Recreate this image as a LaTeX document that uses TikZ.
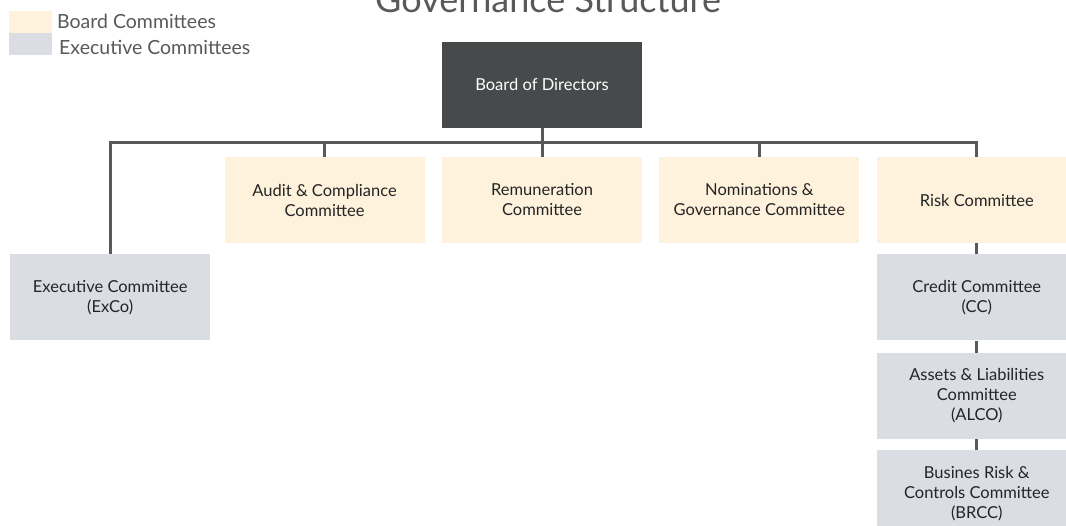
\documentclass[tikz,border=0pt]{standalone}
\usepackage{fontspec}
\setmainfont{Lato}
\usetikzlibrary{positioning}
\definecolor{Ink}{HTML}{232425}
\definecolor{Slate}{HTML}{474A4B}
\definecolor{Wire}{HTML}{58595B}
\definecolor{Cream}{HTML}{FFF2DC}
\definecolor{Mist}{HTML}{DADDE3}
\tikzset{
  every node/.append style={text=Ink},
  unit/.style={minimum width=200pt, minimum height=86pt, align=center,
               inner sep=2pt, font=\fontsize{16.5}{20}\selectfont},
  bcomm/.style={unit, fill=Cream},
  ecomm/.style={unit, fill=Mist},
  chair/.style={unit, fill=Slate, text=white},
  link/.style={draw=Wire, line width=3pt},
  key/.style={minimum width=43pt, minimum height=22pt, inner sep=0pt},
  keytext/.style={font=\fontsize{19.5}{22}\selectfont, anchor=west, inner sep=0pt, text=Wire},
}

\begin{document}
\begin{tikzpicture}[x=1pt, y=-1pt, node distance=17pt]
  \useasboundingbox (0,0) rectangle (1066,526);
  % title and legend
  \node[anchor=base, font=\fontsize{36}{40}\selectfont, text=Wire] (title) at (548,13) {Governance Structure};
  \node[key, fill=Cream] (kboard) at (30.5,22) {};
  \node[key, fill=Mist, below=0pt of kboard] (kexec) {};
  \node[keytext] (tboard) at (57,21) {Board Committees};
  \node[keytext] (texec) at (59,47) {Executive Committees};

  % committees row
  \node[bcomm] (remu) at (542,200) {Remuneration\\Committee};
  \node[bcomm, left=of remu] (audit) {Audit \& Compliance\\Committee};
  \node[bcomm, right=of remu] (nomin) {Nominations \&\\Governance Committee};
  \node[bcomm, right=of nomin] (risk) {Risk Committee};
  \node[chair, above=29pt of remu] (board) {Board of Directors};
  \node[ecomm, below left=11pt and 14pt of audit] (exco) {Executive Committee\\(ExCo)};

  % risk sub-committees
  \node[ecomm, below=11pt of risk] (cc) {Credit Committee\\(CC)};
  \node[ecomm, below=12pt of cc] (alco) {Assets \& Liabilities\\Committee\\(ALCO)};
  \node[ecomm, below=11pt of alco] (brcc) {Busines Risk \&\\Controls Committee\\(BRCC)};

  % tree lines
  \draw[link] (board.south) -- ++(0,15) coordinate (hub);
  \draw[link] (exco.north) |- (risk.north |- hub) -- (risk.north);
  \draw[link] (audit.north) -- (audit.north |- hub);
  \draw[link] (remu.north) -- (hub);
  \draw[link] (nomin.north) -- (nomin.north |- hub);
  \draw[link] (risk) -- (cc);
  \draw[link] (cc) -- (alco);
  \draw[link] (alco) -- (brcc);
\end{tikzpicture}
\end{document}
